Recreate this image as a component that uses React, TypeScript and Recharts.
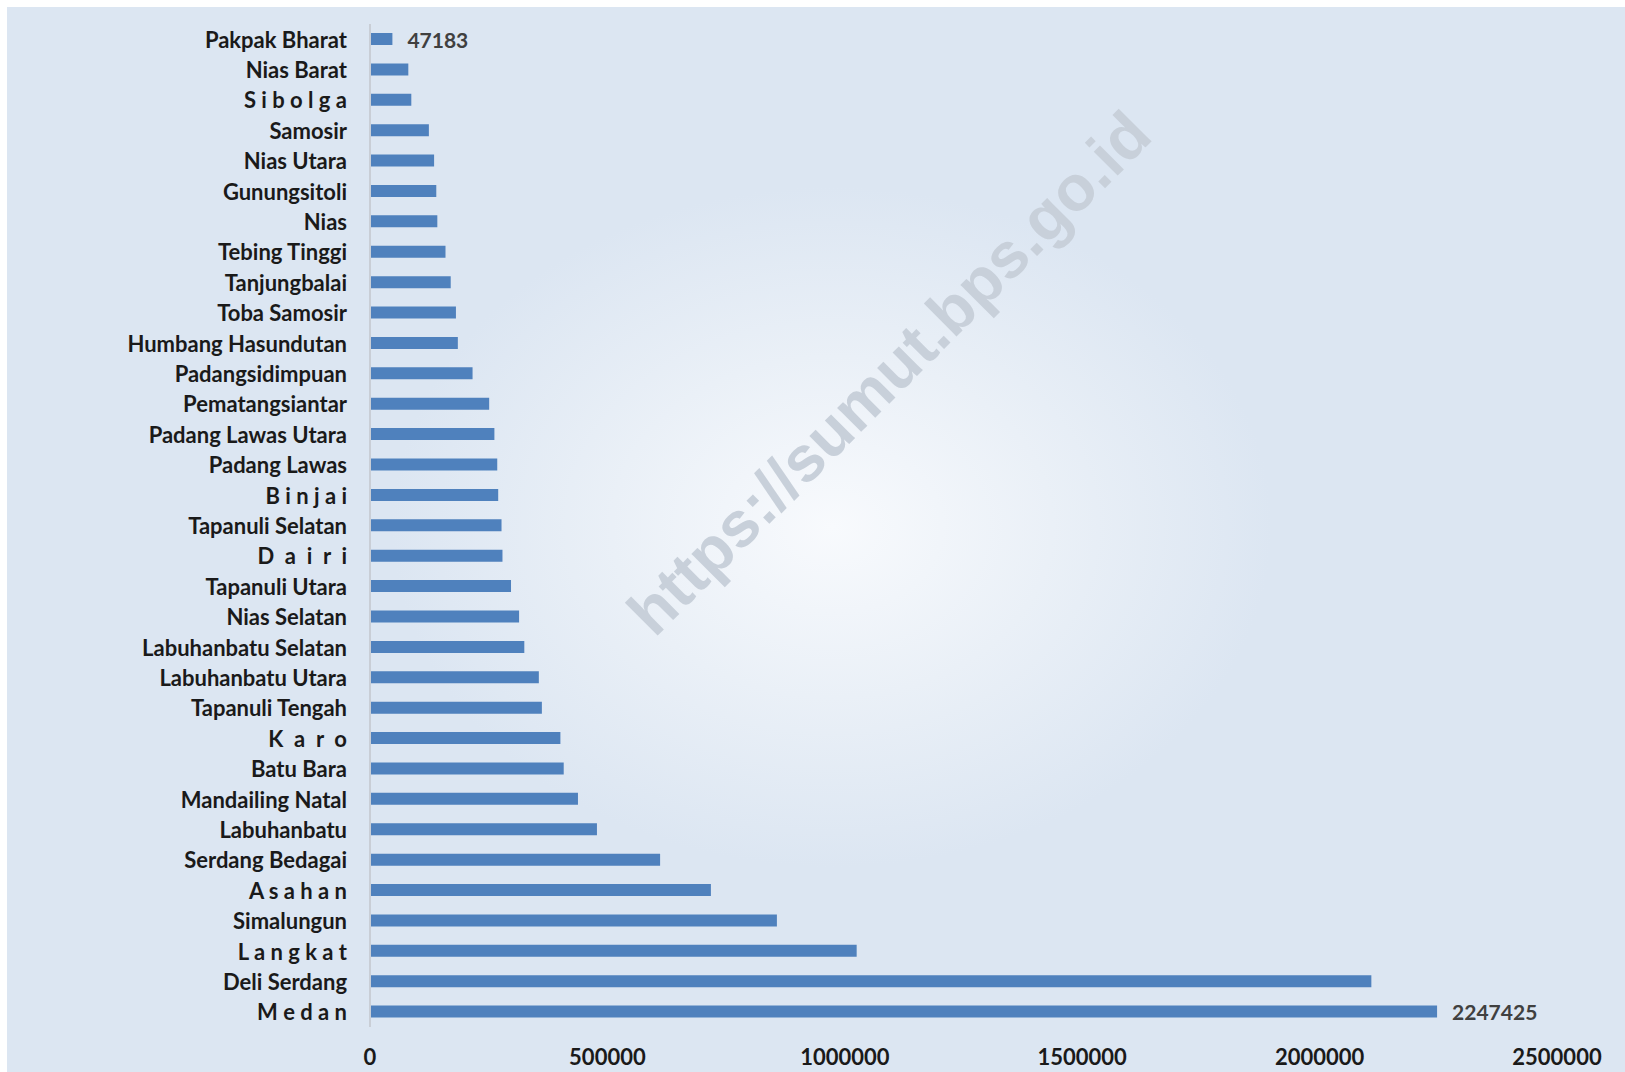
import React from "react";
import { BarChart, Bar, XAxis, YAxis, LabelList } from "recharts";

const categories = [
	"Pakpak Bharat",
	"Nias Barat",
	"S i b o l g a",
	"Samosir",
	"Nias Utara",
	"Gunungsitoli",
	"Nias",
	"Tebing Tinggi",
	"Tanjungbalai",
	"Toba Samosir",
	"Humbang Hasundutan",
	"Padangsidimpuan",
	"Pematangsiantar",
	"Padang Lawas Utara",
	"Padang Lawas",
	"B i n j a i",
	"Tapanuli Selatan",
	"D  a  i  r  i",
	"Tapanuli Utara",
	"Nias Selatan",
	"Labuhanbatu Selatan",
	"Labuhanbatu Utara",
	"Tapanuli Tengah",
	"K  a  r  o",
	"Batu Bara",
	"Mandailing Natal",
	"Labuhanbatu",
	"Serdang Bedagai",
	"A s a h a n",
	"Simalungun",
	"L a n g k a t",
	"Deli Serdang",
	"M e d a n",
];

const population = [
	47183, 80700, 87000, 124000, 135000, 139600, 141800, 159000, 170000, 181000,
	185000, 216000, 251000, 262000, 268000, 270000, 277000, 279000, 297000,
	314000, 325000, 355600, 362000, 401000, 408000, 438000, 478000, 611000,
	718000, 857000, 1025000, 2109000, 2247425,
];

const xTicks = [0, 500000, 1000000, 1500000, 2000000, 2500000];

// only the first and last bars carry a value label
const labelled = [0, categories.length - 1];

const data = categories.map((name, i) => ({ name, value: population[i] }));

const FONT = "Lato, 'Open Sans', sans-serif";

const CategoryTick = (props: any) => {
	const { x, y, payload } = props;
	return (
		<text
			x={x}
			y={y}
			textAnchor="end"
			dominantBaseline="central"
			fill="#1a1a1a"
			fontFamily={FONT}
			fontWeight={700}
			fontSize={22}
			style={{ whiteSpace: "pre" }}
		>
			{payload.value}
		</text>
	);
};

const EndLabel = (props: any) => {
	const { x, y, width, height, value, index } = props;
	if (!labelled.includes(index)) return null;
	return (
		<text
			x={x + width + 15}
			y={y + height / 2}
			dominantBaseline="central"
			fill="#404040"
			fontFamily={FONT}
			fontWeight={700}
			fontSize={21}
		>
			{value}
		</text>
	);
};

export default function App() {
	return (
		<div
			style={{
				position: "absolute",
				left: 7,
				top: 7,
				width: 1618,
				height: 1065,
				background:
					"radial-gradient(ellipse 440px 340px at 825px 520px, #f8fafd 0%, #eaf0f7 50%, #dce6f2 100%)",
				overflow: "hidden",
			}}
		>
			<svg
				width={1618}
				height={1065}
				style={{ position: "absolute", left: 0, top: 0 }}
			>
				<text
					x={882}
					y={366}
					textAnchor="middle"
					dominantBaseline="central"
					transform="rotate(-45 882 366)"
					fill="#c8d0da"
					fontFamily="'Liberation Sans', Arial, sans-serif"
					fontWeight={700}
					fontSize={64}
				>
					https://sumut.bps.go.id
				</text>
			</svg>
			<div style={{ position: "absolute", left: 0, top: 0 }}>
				<BarChart
					width={1618}
					height={1065}
					data={data}
					layout="vertical"
					margin={{ top: 17, right: 68, bottom: 0, left: 23 }}
				>
					<XAxis
						type="number"
						domain={[0, 2500000]}
						ticks={xTicks}
						axisLine={false}
						tickLine={false}
						tickSize={0}
						tickMargin={22}
						height={45}
						interval={0}
						tick={{
							fill: "#1a1a1a",
							fontFamily: FONT,
							fontWeight: 700,
							fontSize: 22,
						}}
					/>
					<YAxis
						type="category"
						dataKey="name"
						width={340}
						interval={0}
						axisLine={{ stroke: "#c9ced6", strokeWidth: 2 }}
						tickLine={false}
						tickSize={0}
						tickMargin={23}
						tick={<CategoryTick />}
					/>
					<Bar
						dataKey="value"
						fill="#4f81bd"
						barSize={12}
						isAnimationActive={false}
					>
						<LabelList dataKey="value" content={<EndLabel />} />
					</Bar>
				</BarChart>
			</div>
		</div>
	);
}
